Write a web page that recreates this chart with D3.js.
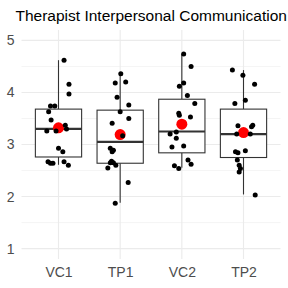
<!DOCTYPE html>
<html>
<head>
<meta charset="utf-8">
<script src="https://cdn.jsdelivr.net/npm/d3@7"></script>
<style>
  body { margin: 0; background: #fff; }
  text { font-family: "Liberation Sans", Arial, sans-serif; }
</style>
</head>
<body>
<div id="chart"></div>
<script>
const groups = ['VC1', 'TP1', 'VC2', 'TP2'];
const yTicks = [1, 2, 3, 4, 5];
const yMinor = [1.5, 2.5, 3.5, 4.5];

// box stats
const q1 = [2.76, 2.64, 2.84, 2.75];
const medians = [3.30, 3.05, 3.25, 3.20];
const q3 = [3.68, 3.66, 3.87, 3.68];
const whiskerLo = [2.61, 1.88, 2.555, 2.04];
const whiskerHi = [4.62, 4.36, 4.74, 4.43];
const means = [3.32, 3.19, 3.39, 3.23];

// jittered points: value per group, jitter in category units
const vc1Values = [4.62, 4.16, 3.97, 3.74, 3.74, 3.63, 3.47, 3.37, 3.30, 3.26, 3.26, 2.93, 2.86, 2.67, 2.64, 2.64, 2.67, 2.60];
const vc1Jitter = [0.09, 0.17, 0.17, -0.13, -0.06, -0.16, -0.12, 0.11, 0.13, -0.19, -0.04, 0.0, 0.07, -0.17, -0.13, -0.09, 0.09, 0.16];
const tp1Values = [4.36, 4.18, 4.20, 3.91, 3.76, 3.63, 3.50, 3.41, 3.17, 2.93, 2.89, 2.86, 2.68, 2.65, 2.65, 2.60, 2.55, 2.27, 1.87];
const tp1Jitter = [0.01, -0.08, 0.09, -0.05, 0.14, 0.0, 0.14, -0.13, 0.04, -0.16, -0.11, -0.13, -0.14, -0.16, -0.11, -0.07, -0.20, 0.13, -0.08];
const vc2Values = [4.74, 4.50, 4.18, 4.12, 3.94, 3.79, 3.60, 3.56, 3.53, 3.24, 3.20, 3.12, 2.95, 2.97, 2.70, 2.62, 2.59, 2.54];
const vc2Jitter = [0.03, 0.15, 0.03, -0.04, 0.09, 0.21, -0.05, -0.04, 0.14, -0.09, -0.19, -0.09, -0.16, 0.03, 0.10, 0.15, -0.12, -0.05];
const tp2Values = [4.43, 4.33, 4.16, 3.85, 3.79, 3.36, 3.34, 3.37, 3.20, 3.20, 2.86, 2.84, 2.88, 2.70, 2.60, 2.54, 2.47, 2.03];
const tp2Jitter = [-0.18, -0.01, 0.18, 0.03, -0.14, -0.09, 0.13, 0.15, -0.11, 0.11, -0.13, -0.09, 0.03, -0.10, -0.07, -0.05, -0.07, 0.19];

const W = 288, H = 288;
const mLeft = 21.5, mRight = 280.5, mTop = 30, mBottom = 259;

const svg = d3.select('#chart').append('svg')
  .attr('width', W).attr('height', H);

const x = d3.scalePoint().domain(groups).range([mLeft, mRight]).padding(0.6);
const y = d3.scaleLinear().domain([0.8, 5.2]).range([mBottom, mTop]);
const step = x.step();
const boxW = step * 0.75;

// grid
svg.append('g').selectAll('line').data(yMinor).join('line')
  .attr('x1', mLeft).attr('x2', mRight)
  .attr('y1', d => y(d)).attr('y2', d => y(d))
  .attr('stroke', '#ebebeb').attr('stroke-width', 0.55);
svg.append('g').selectAll('line').data(yTicks).join('line')
  .attr('x1', mLeft).attr('x2', mRight)
  .attr('y1', d => y(d)).attr('y2', d => y(d))
  .attr('stroke', '#ebebeb').attr('stroke-width', 1.1);
svg.append('g').selectAll('line').data(groups).join('line')
  .attr('x1', d => x(d)).attr('x2', d => x(d))
  .attr('y1', mTop).attr('y2', mBottom)
  .attr('stroke', '#ebebeb').attr('stroke-width', 1.1);

// axes (text only, like theme_minimal)
const yAxis = svg.append('g')
  .attr('transform', `translate(${mLeft},0)`)
  .call(d3.axisLeft(y).tickValues(yTicks).tickFormat(d3.format('d')).tickSize(0).tickPadding(7));
yAxis.select('.domain').remove();
yAxis.selectAll('text').attr('fill', '#4d4d4d').style('font-size', '14px')
  .style('font-family', '"Liberation Sans", Arial, sans-serif');

const xAxis = svg.append('g')
  .attr('transform', `translate(0,${mBottom})`)
  .call(d3.axisBottom(x).tickSize(0).tickPadding(8));
xAxis.select('.domain').remove();
xAxis.selectAll('text').attr('fill', '#4d4d4d').style('font-size', '14px')
  .style('font-family', '"Liberation Sans", Arial, sans-serif');

// boxes
const boxes = groups.map((g, i) => ({
  g, q1: q1[i], med: medians[i], q3: q3[i], lo: whiskerLo[i], hi: whiskerHi[i]
}));
const bx = svg.append('g').selectAll('g').data(boxes).join('g');
bx.append('line')
  .attr('x1', d => x(d.g)).attr('x2', d => x(d.g))
  .attr('y1', d => y(d.q3)).attr('y2', d => y(d.hi))
  .attr('stroke', '#333').attr('stroke-width', 1.1);
bx.append('line')
  .attr('x1', d => x(d.g)).attr('x2', d => x(d.g))
  .attr('y1', d => y(d.q1)).attr('y2', d => y(d.lo))
  .attr('stroke', '#333').attr('stroke-width', 1.1);
bx.append('rect')
  .attr('x', d => x(d.g) - boxW / 2).attr('width', boxW)
  .attr('y', d => y(d.q3)).attr('height', d => y(d.q1) - y(d.q3))
  .attr('fill', '#fff').attr('stroke', '#333').attr('stroke-width', 1.1);
bx.append('line')
  .attr('x1', d => x(d.g) - boxW / 2).attr('x2', d => x(d.g) + boxW / 2)
  .attr('y1', d => y(d.med)).attr('y2', d => y(d.med))
  .attr('stroke', '#333').attr('stroke-width', 2.2);

// means
svg.append('g').selectAll('circle').data(groups).join('circle')
  .attr('cx', d => x(d)).attr('cy', (d, i) => y(means[i]))
  .attr('r', 5.5).attr('fill', 'red');

// jittered points
const pointSets = [
  [vc1Values, vc1Jitter], [tp1Values, tp1Jitter],
  [vc2Values, vc2Jitter], [tp2Values, tp2Jitter]
];
const pts = [];
pointSets.forEach(([vals, jit], i) => {
  vals.forEach((v, j) => pts.push({ g: groups[i], v, j: jit[j] }));
});
svg.append('g').selectAll('circle').data(pts).join('circle')
  .attr('cx', d => x(d.g) + d.j * step)
  .attr('cy', d => y(d.v))
  .attr('r', 2.5).attr('fill', '#000');

// title
svg.append('text')
  .attr('x', 15.5).attr('y', 20.5)
  .attr('fill', '#000')
  .style('font-size', '15.5px')
  .text('Therapist Interpersonal Communication');
</script>
</body>
</html>
